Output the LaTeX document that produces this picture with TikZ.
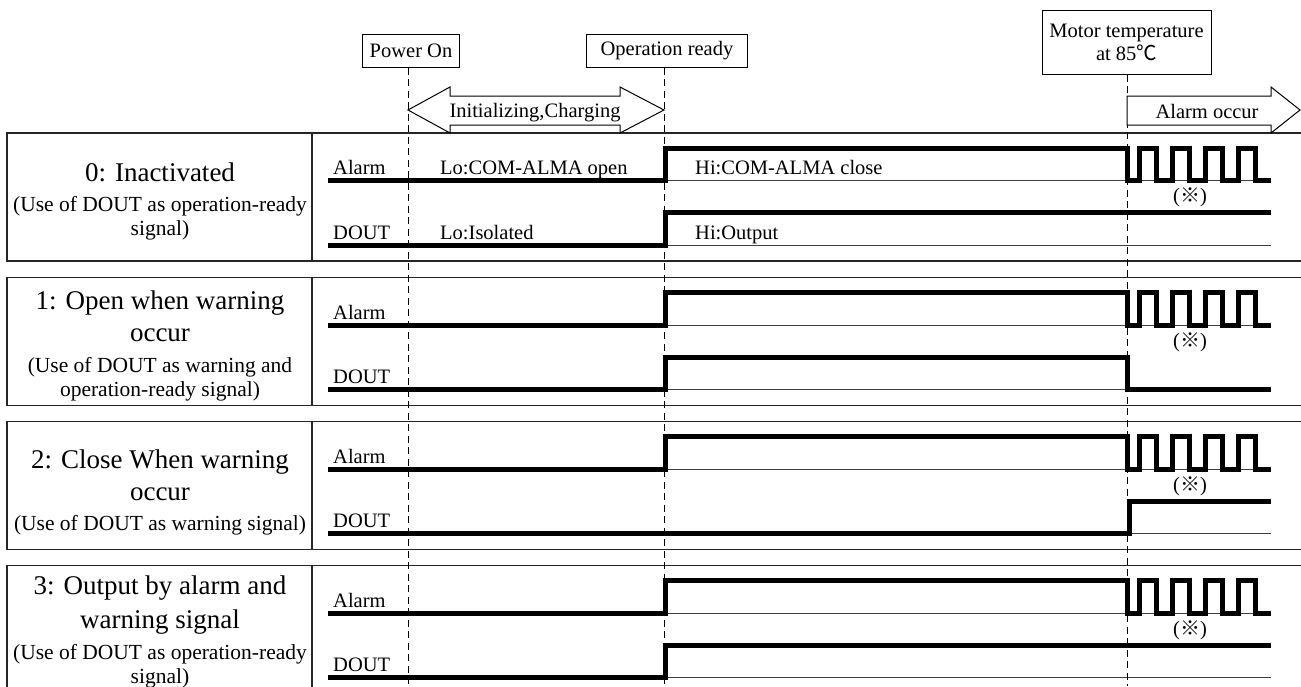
\documentclass[tikz,border=0pt]{standalone}
\usepackage{fontspec}
\setmainfont{Liberation Serif}
\newfontfamily\cjk{Noto Sans CJK JP}
\newcommand{\smallfont}{\fontsize{20.5}{22}\selectfont}
\newcommand{\labfont}{\fontsize{21.5}{22}\selectfont}
\newcommand{\bigfont}{\fontsize{27}{32}\selectfont}
\tikzset{
  evbox/.style={draw, line width=1pt, inner sep=0pt, minimum height=33pt},
  sig/.style={line width=5pt, line join=miter, line cap=butt},
  refline/.style={line width=0.8pt, black!75},
  guide/.style={line width=1pt, dash pattern=on 7pt off 4.5pt},
  frame/.style={line width=1.2pt, black!85},
  lbl/.style={align=center, inner sep=0pt, font=\labfont},
  tag/.style={anchor=base west, inner sep=0pt},
  bigarrow/.style={draw, line width=1pt, fill=white}
}
\begin{document}
\begin{tikzpicture}[x=1pt, y=-1pt, font=\smallfont, line join=miter]
\useasboundingbox (0,0) rectangle (1301,686);

% rows: frame, alarm wave, reference lines
\foreach \t/\n in {133/0, 277.5/1, 421.5/2, 565.5/3}{
  \draw[frame] (1301,\t) -- (7,\t) -- (7,\t+128) -- (1301,\t+128);
  \draw[frame] (312,\t) -- (312,\t+128);
  \draw[refline] (328,\t+47.5) -- (1271,\t+47.5);
  \draw[refline] (328,\t+112) -- (1271,\t+112);
  \node[tag] (alm\n) at (333,\t+41.5) {Alarm};
  \node[tag] (dout\n) at (333,\t+106) {DOUT};
  \node (note\n) at (1190,\t+64.5) {({\cjk\fontsize{20}{22}\selectfont ※})};
}

% event lines
\node[evbox, minimum width=97pt] (pwr) at (411,50.5) {Power On};
\node[evbox, minimum width=161pt] (rdy) at (667,50.5) {Operation ready};
\node[evbox, minimum width=169pt, minimum height=64pt, align=center] (mtr) at (1126.5,42)
  {Motor temperature\\[1pt]at 85{\cjk ℃}};
\coordinate (pwrend) at (408,686);
\coordinate (rdyend) at (664,686);
\coordinate (mtrend) at (1127,686);
\draw[guide] (pwr.south -| pwrend) -- (pwrend);
\draw[guide] (rdy.south -| rdyend) -- (rdyend);
\draw[guide] (mtr.south -| mtrend) -- (mtrend);

% alarm output
\foreach \t in {133, 277.5, 421.5, 565.5}
  \draw[sig] (328,\t+47.5) -| (665,\t+15) -| (1127,\t+47.5) -- (1139,\t+47.5)
    \foreach \k in {1,...,4}{ -- ++(0,-32.5) -- ++(17,0) -- ++(0,32.5) -- ++(16,0)};

% DOUT output
\draw[sig] (328,245) -| (665,212.5) -- (1271,212.5);
\draw[sig] (328,389.5) -| (665,357) -| (1127,389.5) -- (1271,389.5);
\draw[sig] (328,533.5) -| (1129,501) -- (1271,501);
\draw[sig] (328,677.5) -| (665,645) -- (1271,645);

\node[tag] (lo0) at (440,174.5) {Lo:COM-ALMA open};
\node[tag] (hi0) at (695,174.5) {Hi:COM-ALMA close};
\node[tag] (lo1) at (440,239) {Lo:Isolated};
\node[tag] (hi1) at (695,239) {Hi:Output};

% mode labels
\node[lbl] (mode0) at (160,201) {{\bigfont 0: Inactivated}\\[8pt](Use of DOUT as operation-ready\\[2pt]signal)};
\node[lbl] (mode1) at (160,346) {{\bigfont 1: Open when warning}\\[10pt]{\bigfont occur}\\[9pt](Use of DOUT as warning and\\[2pt]operation-ready signal)};
\node[lbl] (mode2) at (160,492) {{\bigfont 2: Close When warning}\\[10pt]{\bigfont occur}\\[8pt](Use of DOUT as warning signal)};
\node[lbl] (mode3) at (160,632) {{\bigfont 3: Output by alarm and}\\[8pt]{\bigfont warning signal}\\[9pt](Use of DOUT as operation-ready\\[2pt]signal)};

% phases
\draw[bigarrow] (408,110) -- (450,87) -- (450,96) -- (620,96) -- (620,87) -- (664,110)
  -- (620,133) -- (620,125) -- (450,125) -- (450,133) -- cycle;
\node[anchor=base] (init) at (535,117) {Initializing,Charging};
\draw[bigarrow] (1127,96) -- (1271,96) -- (1271,87) -- (1300,110) -- (1271,133)
  -- (1271,125) -- (1127,125) -- cycle;
\node[anchor=base] (occ) at (1207,118) {Alarm occur};
\end{tikzpicture}
\end{document}
